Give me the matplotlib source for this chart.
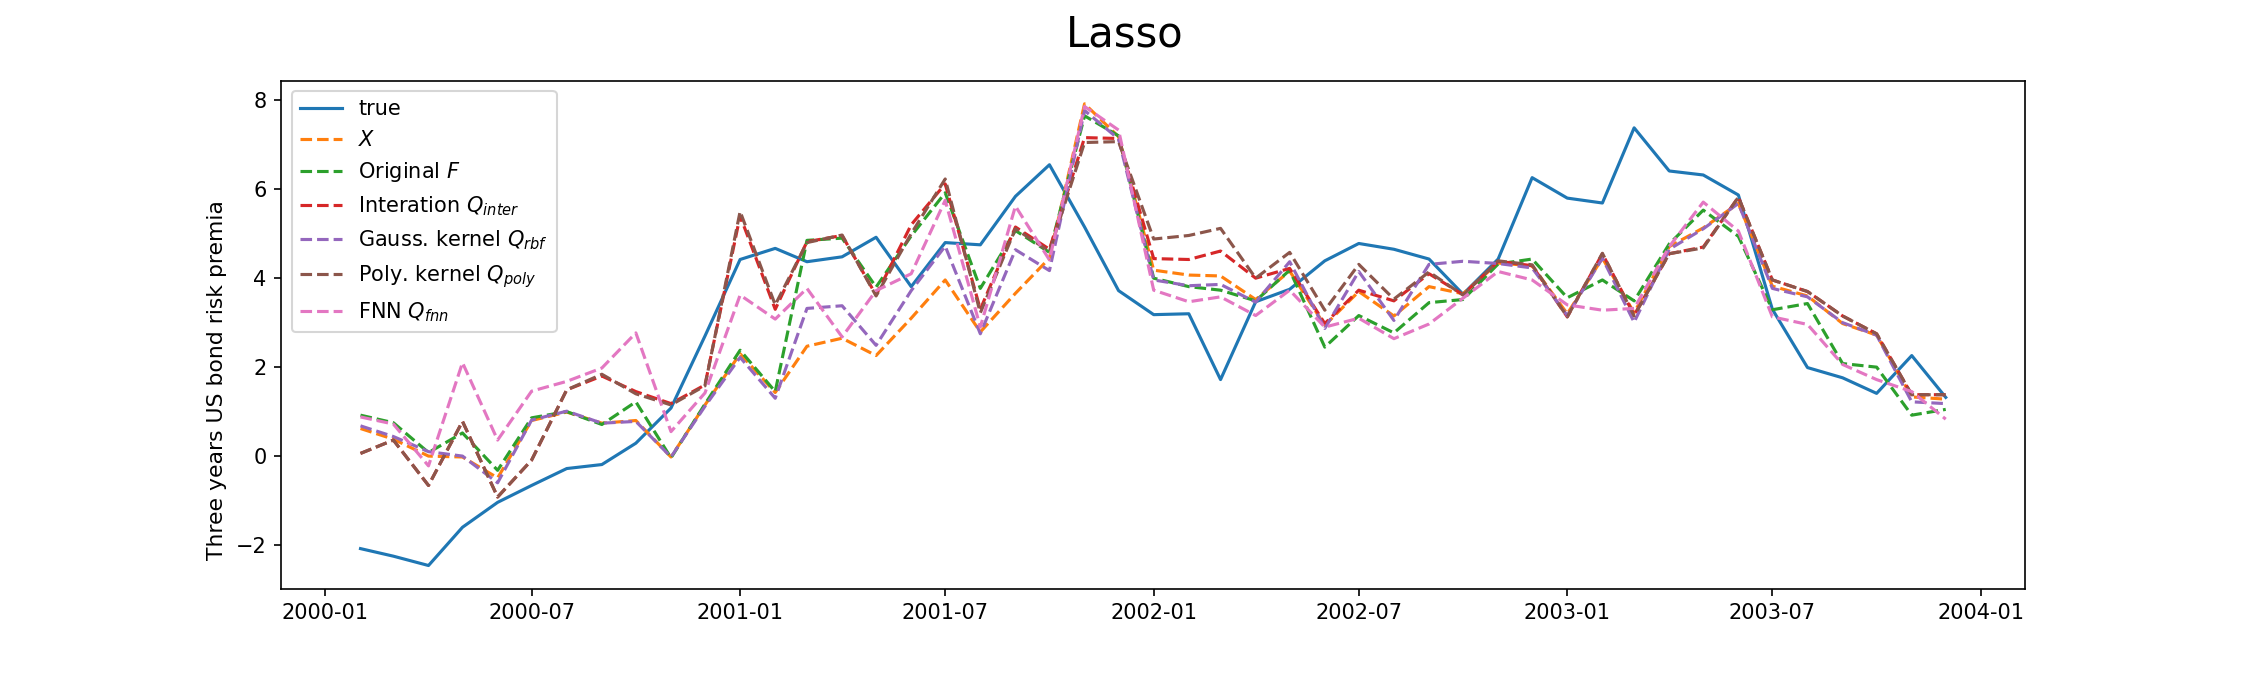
import matplotlib
matplotlib.use("Agg")
import matplotlib.pyplot as plt
import matplotlib.dates as mdates
import pandas as pd

dates = pd.date_range("2000-02-01", periods=47, freq="MS")

true_vals = [-2.08, -2.25, -2.46, -1.6, -1.04, -0.66, -0.28, -0.19, 0.29, 1.08,
             2.7, 4.42, 4.67, 4.37, 4.48, 4.92, 3.81, 4.8, 4.75, 5.84,
             6.55, 5.15, 3.72, 3.18, 3.2, 1.72, 3.47, 3.75, 4.39, 4.78,
             4.65, 4.43, 3.64, 4.43, 6.26, 5.8, 5.69, 7.38, 6.41, 6.32,
             5.87, 3.3, 1.99, 1.76, 1.41, 2.26, 1.32]

x_vals = [0.62, 0.38, 0.0, -0.02, -0.49, 0.8, 0.99, 0.74, 0.8, -0.02,
          1.15, 2.3, 1.43, 2.47, 2.65, 2.26, 3.1, 3.96, 2.79, 3.66,
          4.45, 7.92, 7.18, 4.18, 4.07, 4.05, 3.52, 4.16, 2.94, 3.7,
          3.15, 3.81, 3.65, 4.34, 4.28, 3.2, 4.45, 3.22, 4.71, 5.13,
          5.68, 3.82, 3.6, 2.98, 2.72, 1.33, 1.28]

f_vals = [0.92, 0.75, 0.08, 0.52, -0.32, 0.86, 1.0, 0.71, 1.22, -0.04,
          1.17, 2.38, 1.45, 4.85, 4.9, 3.8, 4.95, 5.92, 3.77, 5.07,
          4.58, 7.65, 7.2, 4.0, 3.81, 3.73, 3.49, 4.18, 2.45, 3.16,
          2.77, 3.45, 3.52, 4.32, 4.43, 3.56, 3.96, 3.49, 4.77, 5.53,
          4.94, 3.29, 3.43, 2.08, 2.0, 0.92, 1.05]

inter_vals = [0.06, 0.36, -0.66, 0.78, -0.92, -0.09, 1.49, 1.8, 1.45, 1.18,
              1.6, 5.4, 3.3, 4.82, 4.96, 3.62, 5.2, 6.12, 3.3, 5.15,
              4.65, 7.16, 7.14, 4.44, 4.42, 4.61, 4.0, 4.22, 2.98, 3.73,
              3.49, 4.1, 3.63, 4.38, 4.28, 3.13, 4.55, 3.17, 4.55, 4.7,
              5.82, 3.96, 3.7, 3.15, 2.75, 1.38, 1.38]

rbf_vals = [0.68, 0.44, 0.1, 0.0, -0.6, 0.81, 1.01, 0.74, 0.78, -0.02,
            1.12, 2.22, 1.3, 3.32, 3.38, 2.49, 3.72, 4.72, 2.75, 4.64,
            4.17, 7.77, 7.13, 3.96, 3.83, 3.86, 3.46, 4.37, 2.87, 4.15,
            3.05, 4.31, 4.38, 4.33, 4.23, 3.16, 4.45, 3.01, 4.65, 5.11,
            5.68, 3.77, 3.58, 3.0, 2.72, 1.22, 1.18]

poly_vals = [0.06, 0.36, -0.66, 0.78, -0.92, -0.09, 1.49, 1.84, 1.4, 1.15,
             1.58, 5.5, 3.4, 4.8, 4.97, 3.6, 5.0, 6.23, 3.22, 5.11,
             4.6, 7.05, 7.07, 4.88, 4.96, 5.12, 4.0, 4.58, 3.28, 4.31,
             3.53, 4.14, 3.62, 4.39, 4.3, 3.13, 4.56, 3.15, 4.55, 4.68,
             5.82, 3.96, 3.7, 3.15, 2.75, 1.38, 1.38]

fnn_vals = [0.88, 0.72, -0.22, 2.1, 0.36, 1.46, 1.68, 1.98, 2.77, 0.55,
            1.42, 3.62, 3.08, 3.77, 2.68, 3.72, 4.1, 5.75, 2.9, 5.62,
            4.41, 7.86, 7.33, 3.73, 3.47, 3.58, 3.16, 3.73, 2.9, 3.1,
            2.64, 2.97, 3.55, 4.15, 3.96, 3.4, 3.28, 3.32, 4.71, 5.71,
            5.06, 3.13, 2.96, 2.06, 1.72, 1.45, 0.83]

labels = ["true", "$X$", "Original $F$", "Interation $Q_{inter}$",
          "Gauss. kernel $Q_{rbf}$", "Poly. kernel $Q_{poly}$", "FNN $Q_{fnn}$"]

series = [true_vals, x_vals, f_vals, inter_vals, rbf_vals, poly_vals, fnn_vals]

fig = plt.figure(figsize=(15, 4.5), dpi=150)
ax = fig.add_axes([0.125, 0.128, 0.9 - 0.125, 0.8804 - 0.128])

for k, (vals, lab) in enumerate(zip(series, labels)):
    ls = "-" if k == 0 else "--"
    ax.plot(dates, vals, ls, color=f"C{k}", label=lab, linewidth=1.5)

ax.xaxis.set_major_locator(mdates.MonthLocator(bymonth=[1, 7]))
ax.xaxis.set_major_formatter(mdates.DateFormatter("%Y-%m"))
ax.set_ylabel("Three years US bond risk premia", fontsize=10.5)
ax.yaxis.set_label_coords(-0.031, 0.41)
ax.legend(loc="upper left")
fig.suptitle("Lasso", fontsize=20)

fig.savefig("out.png", dpi=150)
